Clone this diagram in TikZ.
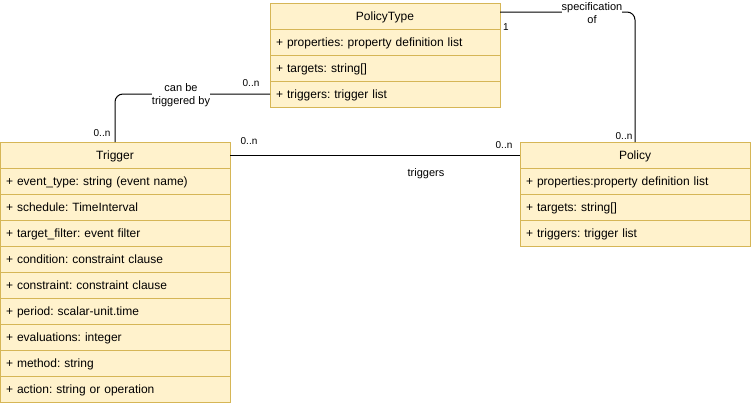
\documentclass[tikz,border=0pt]{standalone}
\usepackage{fontspec}
\setmainfont{Liberation Sans}
\definecolor{umlfill}{HTML}{FFF2CC}
\definecolor{umlline}{HTML}{D6B656}
\frenchspacing

\begin{document}
\begin{tikzpicture}[x=1pt,y=-1pt]
    \tikzstyle{head}=[rectangle,draw=umlline,fill=umlfill,anchor=north west,minimum width=230pt,minimum height=26pt,inner sep=0pt,outer sep=0pt,text height=9pt,text depth=1pt,font=\fontsize{12}{14}\selectfont]
    \tikzstyle{attr}=[head,text width=218pt,inner xsep=6pt,align=left]
    \tikzstyle{link}=[line width=1pt,rounded corners=8pt]
    \tikzstyle{mult}=[font=\fontsize{10}{12}\selectfont,inner sep=0pt]
    \tikzstyle{role}=[font=\fontsize{11}{13}\selectfont,align=center,inner sep=0pt]
    \useasboundingbox (0,0) rectangle (751,405);

    % PolicyType
    \node (pt)[head] at (270,3) {PolicyType};
    \node (pt1)[attr] at (270,29) {+ properties: property definition list};
    \node (pt2)[attr] at (270,55) {+ targets: string[]};
    \node (pt3)[attr] at (270,81) {+ triggers: trigger list};

    % Trigger
    \node (trg)[head] at (0,142) {Trigger};
    \node (trg1)[attr] at (0,168) {+ event\_type: string (event name)};
    \node (trg2)[attr] at (0,194) {+ schedule: TimeInterval};
    \node (trg3)[attr] at (0,220) {+ target\_filter: event filter};
    \node (trg4)[attr] at (0,246) {+ condition: constraint clause};
    \node (trg5)[attr] at (0,272) {+ constraint: constraint clause};
    \node (trg6)[attr] at (0,298) {+ period: scalar-unit.time};
    \node (trg7)[attr] at (0,324) {+ evaluations: integer};
    \node (trg8)[attr] at (0,350) {+ method: string};
    \node (trg9)[attr] at (0,376) {+ action: string or operation};

    % Policy
    \node (pol)[head] at (520,142) {Policy};
    \node (pol1)[attr] at (520,168) {+ properties:property definition list};
    \node (pol2)[attr] at (520,194) {+ targets: string[]};
    \node (pol3)[attr] at (520,220) {+ triggers: trigger list};

    \draw[link] (trg.north) |- (pt3.west);
    \draw[link] ([yshift=4pt]pt.east) -| (pol.north);
    \draw[link] (trg.east) -- (pol.west);

    \node (canbe)[role,fill=white] at (181,95) {can be\\triggered by};
    \node (specof)[role,fill=white] at (592,13) {specification\\of};
    \node (trig)[role] at (426,174) {triggers};

    \node (mpt)[mult] at (251,83) {0..n};
    \node (mtrg)[mult] at (102,133) {0..n};
    \node (mtrgr)[mult] at (249,141) {0..n};
    \node (mpoll)[mult] at (504,145) {0..n};
    \node (mpolt)[mult] at (624,136) {0..n};
    \node (mone)[mult] at (506,27) {1};
\end{tikzpicture}
\end{document}
